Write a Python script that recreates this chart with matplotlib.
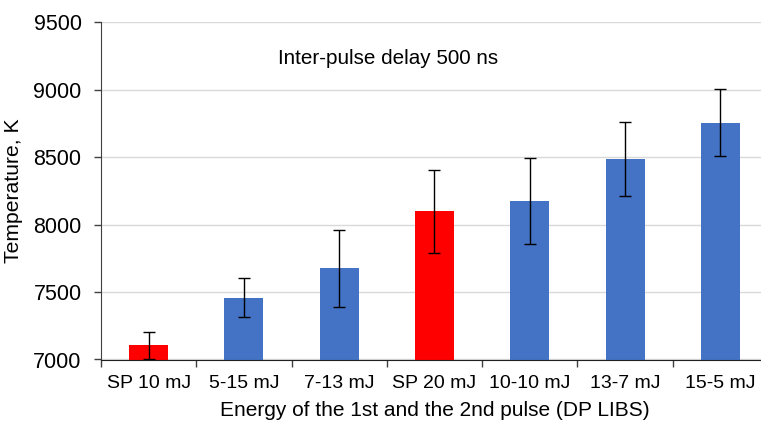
import matplotlib.pyplot as plt

plt.rcParams['font.family'] = ['Liberation Sans', 'DejaVu Sans']

# data
labels = ["SP 10 mJ", "5-15 mJ", "7-13 mJ", "SP 20 mJ", "10-10 mJ", "13-7 mJ", "15-5 mJ"]
temps = [7107, 7458, 7676, 8098, 8174, 8487, 8755]
errs = [100, 143, 285, 308, 320, 273, 250]
single_pulse = [True, False, False, True, False, False, False]

colors = ["#ff0000" if sp else "#4472c4" for sp in single_pulse]

fig = plt.figure(figsize=(7.61, 4.23), dpi=100)
# axes runs a little past the right edge, as in the reference
ax = fig.add_axes([101 / 761, 1 - 359.5 / 423, 667 / 761, 337.5 / 423])

x = list(range(len(labels)))
ax.bar(x, temps, width=0.41, color=colors, zorder=2)
ax.errorbar(x, temps, yerr=errs, fmt='none', ecolor='black', elinewidth=1,
            capsize=4, capthick=1, zorder=3)

ax.set_ylim(7000, 9500)
ax.set_xlim(-0.5, len(labels) - 0.5)
ax.set_yticks([7000, 7500, 8000, 8500, 9000, 9500])
ax.set_xticks(x)
ax.set_xticklabels(labels, fontsize=14)
ax.set_xticks([i - 0.5 for i in range(len(labels) + 1)], minor=True)
ax.tick_params(axis='x', which='major', length=0, pad=11.5)
ax.tick_params(axis='x', which='minor', length=5, width=1, color='#404040')
ax.tick_params(axis='y', labelsize=15.5, length=5, width=1, color='#404040', pad=9)

ax.yaxis.grid(True, color='#d9d9d9', linewidth=1, zorder=0)
ax.set_axisbelow(True)
for s in ['top', 'right']:
    ax.spines[s].set_visible(False)
ax.spines['left'].set_color('#404040')
ax.spines['bottom'].set_color('#202020')
ax.spines['left'].set_zorder(4)
ax.spines['bottom'].set_zorder(4)

ax.set_ylabel("Temperature, K", fontsize=15.2, labelpad=7)
ax.set_xlabel("Energy of the 1st and the 2nd pulse (DP LIBS)", fontsize=15, labelpad=6)

fig.text(278 / 761, 1 - 58 / 423, "Inter-pulse delay 500 ns", fontsize=14.9,
         ha='left', va='center')

fig.savefig("out.png", dpi=100)
